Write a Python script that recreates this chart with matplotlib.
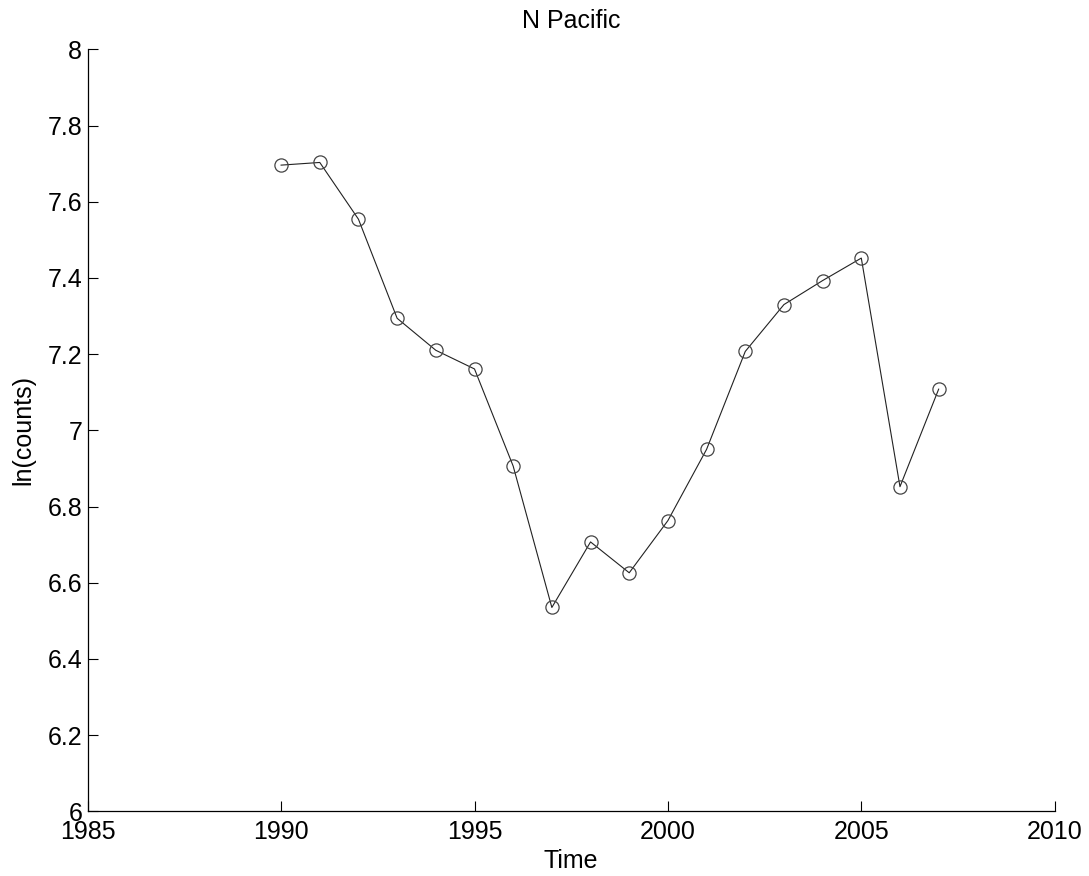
import matplotlib
matplotlib.use("Agg")
import matplotlib.pyplot as plt

years = [1990, 1991, 1992, 1993, 1994, 1995, 1996, 1997, 1998, 1999,
         2000, 2001, 2002, 2003, 2004, 2005, 2006, 2007]
ln_counts = [7.696, 7.703, 7.554, 7.294, 7.210, 7.161, 6.906, 6.535, 6.707, 6.626,
             6.763, 6.950, 7.207, 7.330, 7.393, 7.452, 6.852, 7.108]
x_ticks = [1985, 1990, 1995, 2000, 2005, 2010]
y_ticks = [6, 6.2, 6.4, 6.6, 6.8, 7, 7.2, 7.4, 7.6, 7.8, 8]
y_tick_labels = ["6", "6.2", "6.4", "6.6", "6.8", "7", "7.2", "7.4", "7.6", "7.8", "8"]

plt.rcParams['font.family'] = ['Liberation Sans', 'DejaVu Sans']

fig = plt.figure(figsize=(10.89, 8.76), dpi=100)
ax = fig.add_axes([87.7 / 1089, (876 - 811.3) / 876, (1054.7 - 87.7) / 1089, (811.3 - 49.3) / 876])

ax.plot(years, ln_counts, color='#222222', linewidth=0.8,
        marker='o', markersize=9.5, markerfacecolor='none',
        markeredgecolor='#444444', markeredgewidth=0.9)

ax.set_xlim(1985, 2010)
ax.set_ylim(6, 8)
ax.set_xticks(x_ticks)
ax.set_xticklabels([str(t) for t in x_ticks])
ax.set_yticks(y_ticks)
ax.set_yticklabels(y_tick_labels)

for s in ['top', 'right']:
    ax.spines[s].set_visible(False)
for s in ['left', 'bottom']:
    ax.spines[s].set_linewidth(0.9)
    ax.spines[s].set_color('black')

ax.tick_params(direction='in', length=7, width=0.8, labelsize=18, pad=4)
ax.tick_params(axis='x', pad=6)

ax.set_title('N Pacific', fontsize=18, pad=15)
ax.set_xlabel('Time', fontsize=18, labelpad=4)
ax.set_ylabel('ln(counts)', fontsize=18, labelpad=9)

fig.savefig('out.png', dpi=100)
